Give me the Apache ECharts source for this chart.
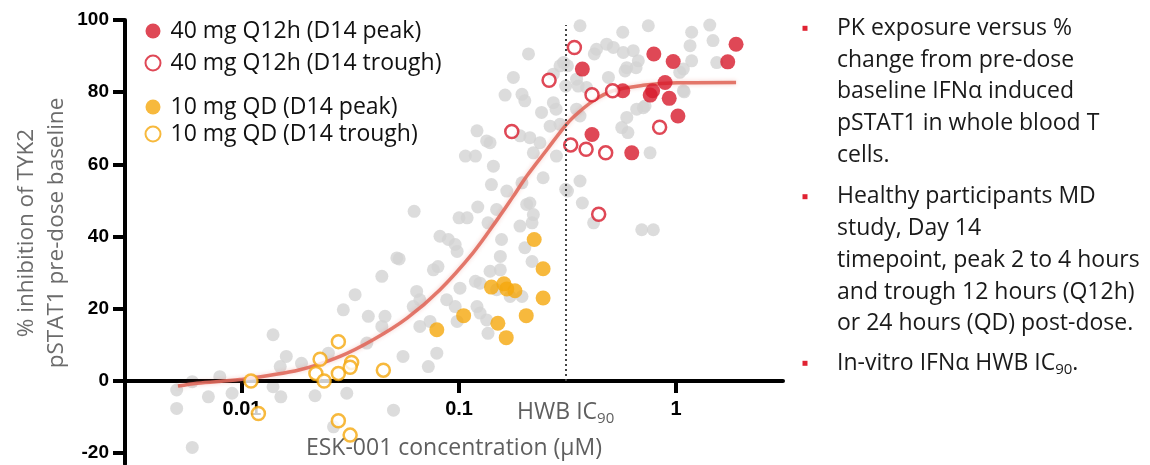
<!DOCTYPE html>
<html>
<head>
<meta charset="utf-8">
<script src="https://cdn.jsdelivr.net/npm/echarts@6/dist/echarts.min.js"></script>
<style>
html,body{margin:0;padding:0;background:#fff;}
#chart{width:1150px;height:465px;}
</style>
</head>
<body>
<div id="chart"></div>
<script>
// ---- data (concentration in µM, % inhibition) ----
const xTicks = [0.01, 0.1, 1];
const yTicks = [-20, 0, 20, 40, 60, 80, 100];
const ic90 = 0.31;
const ic90Label = 'HWB IC';

const legendNames = ['40 mg Q12h (D14 peak)', '40 mg Q12h (D14 trough)', '10 mg QD (D14 peak)', '10 mg QD (D14 trough)'];

const redPeak = [[1.89,93.3],[1.73,88.4],[0.79,90.6],[0.97,88.5],[0.37,86.4],[0.568,80.4],[0.78,80.4],[0.89,82.7],[0.76,79.2],[0.93,78.3],[1.02,73.4],[0.41,68.3],[0.625,63.2]];
const redTrough = [[0.34,92.4],[0.26,83.3],[0.41,79.3],[0.51,80.4],[0.175,69.1],[0.327,65.4],[0.385,64.2],[0.474,63.2],[0.84,70.3],[0.44,46.2]];
const orangePeak = [[0.222,39.2],[0.244,31.1],[0.244,23.0],[0.141,26.0],[0.161,26.9],[0.166,25.5],[0.181,25.0],[0.105,18.1],[0.079,14.2],[0.151,16.0],[0.165,12.0],[0.204,18.1]];
const orangeTrough = [[0.0110,0.0],[0.0119,-9.0],[0.0278,10.9],[0.0229,6.0],[0.0219,2.1],[0.0239,0.0],[0.0278,2.1],[0.0320,5.1],[0.0315,3.8],[0.0448,3.0],[0.0278,-11.0],[0.0315,-15.0]];

const greyPoints = [
 [0.0050,-2.5],[0.0050,-7.6],[0.0059,-0.2],[0.0070,-4.4],[0.0079,1.2],[0.0090,-3.4],[0.0059,-18.4],[0.0139,12.8],[0.0160,6.8],[0.0150,4.0],[0.0139,-1.6],[0.0151,-4.4],[0.0188,4.9],[0.0217,-4.1],[0.0250,7.7],[0.0293,19.7],[0.0332,23.9],[0.0304,-3.4],[0.0376,10.5],[0.0382,17.9],[0.0441,29.0],[0.0456,17.9],[0.0441,15.1],[0.0517,34.1],[0.0499,-8.1],[0.0264,-12.7],
 [0.0621,47.0],[0.0817,40.1],[0.0893,39.2],[0.096,37.8],[0.098,35.9],[0.100,45.2],[0.109,45.2],[0.122,48.2],[0.136,43.8],[0.149,47.5],[0.157,39.2],[0.155,34.5],[0.155,30.8],[0.139,30.4],[0.205,48.9],[0.220,46.1],[0.217,43.8],[0.201,36.9],[0.217,33.1],[0.053,33.8],[0.0762,30.8],[0.080,31.7],[0.0638,24.8],[0.066,22.5],[0.0615,20.6],[0.066,15.1],[0.0735,16.5],[0.0552,6.8],[0.0722,4.0],[0.079,7.7],[0.0877,22.5],[0.096,20.6],[0.098,16.5],[0.101,25.7],[0.119,27.6],[0.121,20.6],[0.125,18.8],[0.134,16.9],[0.136,13.2],[0.149,25.3],[0.172,23.4],[0.195,23.4],[0.125,27.1],[0.191,42.9],
 [0.209,90.6],[0.178,84.1],[0.163,79.2],[0.195,79.4],[0.201,77.6],[0.240,74.4],[0.292,87.3],[0.272,85.0],[0.272,77.1],[0.280,75.3],[0.263,70.6],[0.292,71.1],[0.121,69.3],[0.134,66.5],[0.191,67.9],[0.212,67.4],[0.236,66.0],[0.220,63.2],[0.107,62.3],[0.119,62.3],[0.144,59.5],[0.141,54.4],[0.166,52.6],[0.195,54.9],[0.244,56.3],[0.212,49.3],[0.139,66.0],[0.281,62.3],
 [0.361,98.4],[0.568,96.6],[0.745,98.4],[1.18,96.6],[1.43,98.6],[1.48,94.3],[1.16,92.9],[0.479,93.3],[0.430,91.9],[0.514,92.4],[0.571,91.0],[0.635,91.5],[0.670,88.7],[0.593,86.8],[1.18,88.7],[1.08,86.4],[0.316,87.3],[0.348,83.6],[0.387,81.3],[1.08,80.4],[0.720,76.2],[0.659,75.3],[0.593,73.0],[0.562,70.2],[0.600,68.8],[0.759,63.2],[0.361,73.4],[0.348,75.3],[0.361,55.4],[0.316,52.6],[0.370,49.3],[0.417,43.8],[0.695,41.9],[0.786,41.9],[1.54,88.2],[0.420,90.6],[0.654,86.8],[0.582,85.9],[0.488,84.1],[0.303,88.2],[0.310,81.7],[0.354,81.7],[1.04,85.5],[1.09,80.1],[0.707,75.7],[0.310,53.1]
];

const fitCurve = [[0.00507,-1.4],[0.00621,-0.6],[0.0098,0.4],[0.0185,3.1],[0.0283,6.8],[0.0402,11.4],[0.0576,17.4],[0.0817,25.3],[0.116,35.5],[0.150,44.7],[0.177,51.0],[0.206,56.9],[0.255,64.2],[0.302,70.0],[0.335,73.0],[0.415,77.6],[0.513,80.4],[0.705,81.9],[1.01,82.6],[1.89,82.7]];

const bullets = [
  ['PK exposure versus %', 'change from pre-dose', 'baseline IFNα induced', 'pSTAT1 in whole blood T', 'cells.'],
  ['Healthy participants MD', 'study, Day 14', 'timepoint, peak 2 to 4 hours', 'and trough 12 hours (Q12h)', 'or 24 hours (QD) post-dose.'],
  ['In-vitro IFNα HWB IC{s|90}.']
];

// ---- styling ----
const RED = '#d71a2c';
const ORANGE = '#f5a80c';
const GREY = '#d3d3d3';
const TXT = '"Open Sans", Lato, sans-serif';
const BOLD = '"Liberation Sans", Arial, sans-serif';
const FS = 23;

const chart = echarts.init(document.getElementById('chart'), null, {renderer: 'canvas'});

const bulletTops = [12.4, 180.8, 347.4];
const graphics = [];
bullets.forEach((lines, i) => {
  graphics.push({type: 'rect', left: 802.5, top: bulletTops[i] + 13.4, shape: {width: 5, height: 5}, style: {fill: '#e02232'}});
  graphics.push({
    type: 'text', x: 837, y: bulletTops[i],
    style: {
      text: lines.join('\n'), fontFamily: TXT, fontSize: FS, lineHeight: 31.8, fill: '#1a1a1a',
      verticalAlign: 'top', align: 'left',
      rich: { s: {fontFamily: TXT, fontSize: 15, fill: '#1a1a1a', padding: [12, 0, 0, 0]} }
    }
  });
});
graphics.push({
  type: 'text', x: 42, y: 233, rotation: Math.PI / 2,
  style: {
    text: '% inhibition of TYK2\npSTAT1 pre-dose baseline', fontFamily: TXT, fontSize: 22.5, lineHeight: 30,
    fill: '#6b6b6b', align: 'center', verticalAlign: 'middle'
  }
});

const option = {
  animation: false,
  backgroundColor: '#fff',
  grid: {left: 125, right: 367, top: 20, bottom: 1, containLabel: false, outerBoundsMode: 'none'},
  legend: [
    {
      data: legendNames.slice(0, 2), left: 139.5, top: 14, orient: 'vertical',
      itemWidth: 25, itemHeight: 15, itemGap: 8,
      textStyle: {fontFamily: TXT, fontSize: FS, color: '#111', lineHeight: 24}
    },
    {
      data: legendNames.slice(2, 4), left: 139.5, top: 90, orient: 'vertical',
      itemWidth: 25, itemHeight: 15, itemGap: 3,
      textStyle: {fontFamily: TXT, fontSize: FS, color: '#111', lineHeight: 24}
    }
  ],
  xAxis: {
    type: 'log', logBase: 10, min: 0.00289, max: 3.11, z: 1.5,
    position: 'bottom', offset: -83,
    name: 'ESK-001 concentration (µM)', nameLocation: 'middle', nameGap: 56,
    nameTextStyle: {fontFamily: TXT, fontSize: FS, color: '#5f5f5f'},
    axisLine: {onZero: false, lineStyle: {color: '#000', width: 4}},
    axisTick: {show: true, customValues: xTicks, length: 12, lineStyle: {color: '#000', width: 4}},
    minorTick: {show: false},
    splitLine: {show: false},
    axisLabel: {
      customValues: xTicks.concat([ic90]), margin: 18,
      fontFamily: BOLD, fontWeight: 'bold', fontSize: 20, color: '#000',
      formatter: function (v) {
        if (Math.abs(v - ic90) < 1e-6) return '{h|' + ic90Label + '}{s|90}';
        return String(v);
      },
      rich: {
        h: {fontFamily: TXT, fontSize: FS, color: '#5f5f5f', fontWeight: 'normal'},
        s: {fontFamily: TXT, fontSize: 15, color: '#5f5f5f', fontWeight: 'normal', padding: [12, 0, 0, 0]}
      }
    }
  },
  yAxis: {
    type: 'value', min: -23, max: 100, z: 1.5,
    axisLine: {show: true, onZero: false, lineStyle: {color: '#000', width: 4}},
    axisTick: {show: true, customValues: yTicks, length: 12, lineStyle: {color: '#000', width: 4}},
    splitLine: {show: false},
    axisLabel: {customValues: yTicks, margin: 16, fontFamily: BOLD, fontWeight: 'bold', fontSize: 19, color: '#000'}
  },
  graphic: graphics,
  series: [
    {
      name: 'All participants', type: 'scatter', data: greyPoints, symbol: 'circle', symbolSize: 13, z: 1,
      itemStyle: {color: GREY}, silent: true, clip: false
    },
    {
      name: 'Fit', type: 'line', data: fitCurve, smooth: 0.35, showSymbol: false, z: 2,
      lineStyle: {color: '#e0695c', width: 3.5, opacity: 0.9, shadowColor: 'rgba(224,105,92,0.35)', shadowBlur: 4}, silent: true,
      markLine: {
        silent: true, symbol: 'none', label: {show: false},
        lineStyle: {color: '#444', width: 2, type: [2, 3], shadowBlur: 0},
        data: [[{coord: [ic90, 0]}, {coord: [ic90, 98.6]}]]
      }
    },
    {
      name: legendNames[0], type: 'scatter', data: redPeak, symbol: 'circle', symbolSize: 15, z: 4,
      itemStyle: {color: RED}
    },
    {
      name: legendNames[1], type: 'scatter', data: redTrough, symbol: 'circle', symbolSize: 13, z: 4,
      itemStyle: {color: '#fff', borderColor: RED, borderWidth: 2.5}
    },
    {
      name: legendNames[2], type: 'scatter', data: orangePeak, symbol: 'circle', symbolSize: 15, z: 4,
      itemStyle: {color: ORANGE}
    },
    {
      name: legendNames[3], type: 'scatter', data: orangeTrough, symbol: 'circle', symbolSize: 13, z: 4,
      itemStyle: {color: '#fff', borderColor: ORANGE, borderWidth: 2.5}
    }
  ]
};
chart.setOption(option);
</script>
</body>
</html>
